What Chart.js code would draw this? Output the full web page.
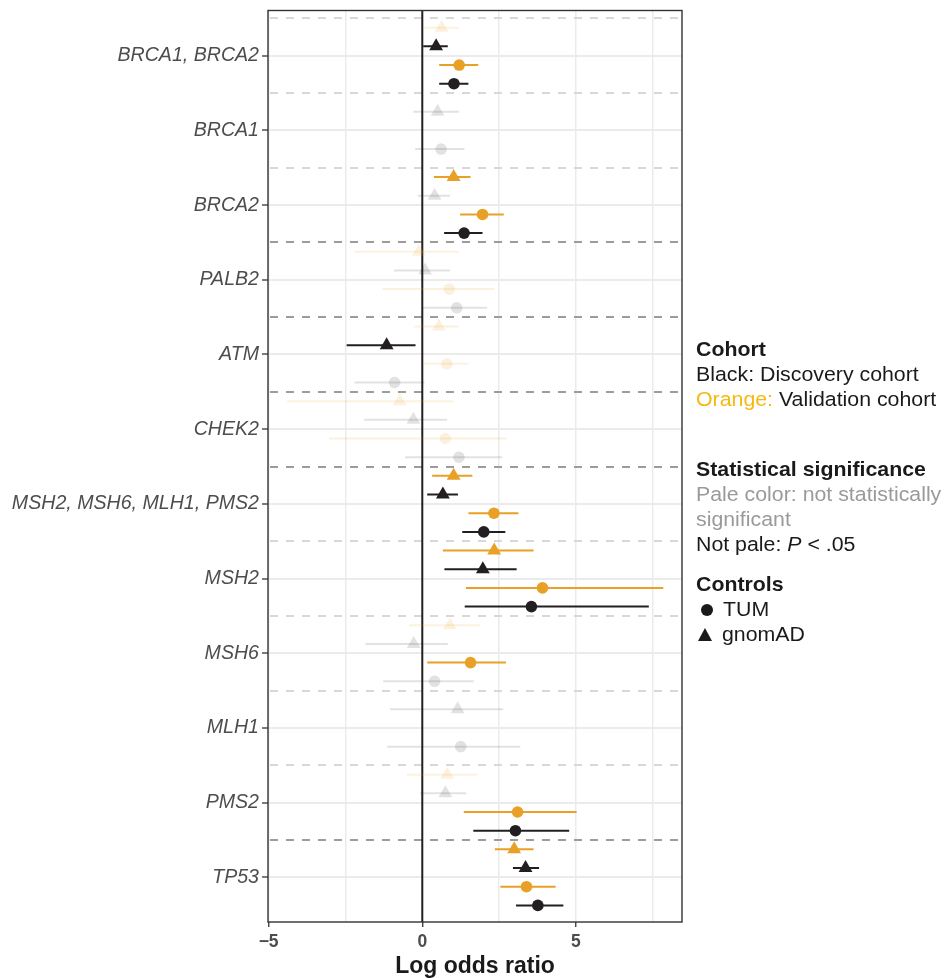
<!DOCTYPE html>
<html>
<head>
<meta charset="utf-8">
<script src="https://cdn.jsdelivr.net/npm/chart.js@4/dist/chart.umd.min.js"></script>
<style>
  html, body { margin: 0; padding: 0; background: #fff; }
  #wrap { position: relative; width: 944px; height: 978px; }
  #chart { position: absolute; left: 0; top: 0; }
  .lg { position: absolute; left: 696px; font-family: "Liberation Sans", Arial, sans-serif; font-size: 20.5px; line-height: 20.5px; color: #1a1a1a; white-space: nowrap; }
  .lg .t { display: inline-block; transform: scaleX(1.04); transform-origin: 0 50%; }
  .pale { color: #9a9a9a; }
  .orange { color: #f5b90f; }
  .dot { display: inline-block; width: 12px; height: 12px; border-radius: 50%; background: #1a1a1a; margin: 0 10px 0 5px; vertical-align: 0px; }
  .tri { display: inline-block; width: 0; height: 0; border-left: 7.5px solid transparent; border-right: 7.5px solid transparent; border-bottom: 13px solid #1a1a1a; margin: 0 10px 0 2px; vertical-align: 0px; }
</style>
</head>
<body>
<div id="wrap">
  <canvas id="chart" width="944" height="978"></canvas>
  <div class="lg" style="top:338.6px"><span class="t"><b>Cohort</b></span></div>
  <div class="lg" style="top:363.6px"><span class="t">Black: Discovery cohort</span></div>
  <div class="lg" style="top:388.6px"><span class="t"><span class="orange">Orange:</span> Validation cohort</span></div>
  <div class="lg" style="top:458.6px"><span class="t"><b>Statistical significance</b></span></div>
  <div class="lg pale" style="top:483.6px"><span class="t">Pale color: not statistically</span></div>
  <div class="lg pale" style="top:508.6px"><span class="t">significant</span></div>
  <div class="lg" style="top:534px"><span class="t">Not pale: <i>P</i> &lt; .05</span></div>
  <div class="lg" style="top:574.3px"><span class="t"><b>Controls</b></span></div>
  <div class="lg" style="top:599.3px"><span class="dot"></span><span class="t">TUM</span></div>
  <div class="lg" style="top:624.3px"><span class="tri"></span><span class="t">gnomAD</span></div>
</div>
<script>
// gene groups, top to bottom
const genes = ['BRCA1, BRCA2', 'BRCA1', 'BRCA2', 'PALB2', 'ATM', 'CHEK2',
  'MSH2, MSH6, MLH1, PMS2', 'MSH2', 'MSH6', 'MLH1', 'PMS2', 'TP53'];

// validation cohort vs gnomAD (orange triangles)
const valGnomadEst = [0.63, null, 1.02, -0.11, 0.54, -0.73, 1.02, 2.34, 0.90, null, 0.81, 2.99];
const valGnomadLo  = [0.07, null, 0.38, -2.21, -0.26, -4.39, 0.32, 0.67, -0.43, null, -0.50, 2.36];
const valGnomadHi  = [1.19, null, 1.57, 1.19, 1.19, 1.01, 1.63, 3.62, 1.87, null, 1.79, 3.62];
const valGnomadSig = [0, null, 1, 0, 0, 0, 1, 1, 0, null, 0, 1];

// discovery cohort vs gnomAD (black triangles)
const discGnomadEst = [0.45, 0.50, 0.40, 0.09, -1.16, -0.29, 0.67, 1.97, -0.28, 1.15, 0.75, 3.36];
const discGnomadLo  = [0.03, -0.29, -0.15, -0.92, -2.46, -1.89, 0.16, 0.72, -1.85, -1.05, -0.07, 2.95];
const discGnomadHi  = [0.83, 1.19, 0.90, 0.90, -0.22, 0.81, 1.16, 3.07, 0.83, 2.63, 1.43, 3.80];
const discGnomadSig = [1, 0, 0, 0, 1, 0, 1, 1, 0, 0, 0, 1];

// validation cohort vs TUM (orange circles)
const valTumEst = [1.20, null, 1.96, 0.88, 0.80, 0.75, 2.33, 3.91, 1.57, null, 3.10, 3.39];
const valTumLo  = [0.55, null, 1.23, -1.30, 0.03, -3.03, 1.50, 1.42, 0.16, null, 1.35, 2.54];
const valTumHi  = [1.82, null, 2.65, 2.35, 1.50, 2.75, 3.13, 7.84, 2.72, null, 5.02, 4.34];
const valTumSig = [1, null, 1, 0, 0, 0, 1, 1, 1, null, 1, 1];

// discovery cohort vs TUM (black circles)
const discTumEst = [1.03, 0.61, 1.36, 1.12, -0.90, 1.19, 2.00, 3.55, 0.40, 1.25, 3.03, 3.76];
const discTumLo  = [0.55, -0.23, 0.71, -0.02, -2.21, -0.56, 1.30, 1.38, -1.27, -1.14, 1.66, 3.05];
const discTumHi  = [1.50, 1.37, 1.96, 2.11, 0.07, 2.60, 2.70, 7.37, 1.67, 3.19, 4.78, 4.59];
const discTumSig = [1, 0, 1, 0, 0, 0, 1, 1, 0, 0, 1, 1];

const xTicks = [-5, -2.5, 0, 2.5, 5, 7.5];
// boundaries above each group: 1 = darker dashed line (new gene family)
const boundaryDark = [0, 0, 0, 1, 1, 1, 1, 0, 0, 0, 0, 1];

const ORANGE = '#e8a126';
const BLACK = '#231f20';
const PALE_ORANGE = 'rgba(232,161,38,0.15)';
const PALE_BLACK = 'rgba(35,31,32,0.13)';

const series = [
  { est: valGnomadEst, lo: valGnomadLo, hi: valGnomadHi, sig: valGnomadSig, orange: true, shape: 'triangle' },
  { est: discGnomadEst, lo: discGnomadLo, hi: discGnomadHi, sig: discGnomadSig, orange: false, shape: 'triangle' },
  { est: valTumEst, lo: valTumLo, hi: valTumHi, sig: valTumSig, orange: true, shape: 'circle' },
  { est: discTumEst, lo: discTumLo, hi: discTumHi, sig: discTumSig, orange: false, shape: 'circle' }
];

const ciSets = [];
const circlePts = [];
const trianglePts = [];

genes.forEach((g, i) => {
  const present = series.filter(s => s.est[i] != null);
  const n = present.length;
  present.forEach((s, k) => {
    const y = 4 * i + (k - (n - 1) / 2) * (4 / n);
    const col = s.sig[i] ? (s.orange ? ORANGE : BLACK) : (s.orange ? PALE_ORANGE : PALE_BLACK);
    ciSets.push({
      type: 'line',
      data: [{ x: s.lo[i], y: y }, { x: s.hi[i], y: y }],
      borderColor: col,
      borderWidth: 2,
      pointRadius: 0,
      showLine: true,
      order: 2
    });
    const pt = { x: s.est[i], y: y, c: col };
    (s.shape === 'circle' ? circlePts : trianglePts).push(pt);
  });
});

const gridPlugin = {
  id: 'extras',
  beforeDatasetsDraw(chart) {
    const { ctx, chartArea, scales } = chart;
    ctx.save();
    ctx.lineWidth = 2;
    ctx.setLineDash([8, 8]);
    boundaryDark.forEach((d, k) => {
      const y = Math.round(scales.y.getPixelForValue(4 * k - 2));
      ctx.strokeStyle = d ? '#9c9c9c' : '#d8d8d8';
      ctx.beginPath();
      ctx.moveTo(chartArea.left + 2, y);
      ctx.lineTo(chartArea.right, y);
      ctx.stroke();
    });
    ctx.setLineDash([]);
    // zero reference line
    const x0 = scales.x.getPixelForValue(0);
    ctx.strokeStyle = BLACK;
    ctx.lineWidth = 2;
    ctx.beginPath();
    ctx.moveTo(x0, chartArea.top);
    ctx.lineTo(x0, chartArea.bottom);
    ctx.stroke();
    ctx.restore();
  },
  afterDraw(chart) {
    const { ctx, chartArea } = chart;
    ctx.save();
    ctx.strokeStyle = '#333333';
    ctx.lineWidth = 1.4;
    ctx.strokeRect(chartArea.left, chartArea.top, chartArea.right - chartArea.left, chartArea.bottom - chartArea.top);
    ctx.restore();
  }
};

new Chart(document.getElementById('chart'), {
  type: 'scatter',
  data: {
    datasets: [
      {
        data: trianglePts,
        pointStyle: 'triangle',
        pointRadius: 8,
        pointBorderWidth: 0,
        backgroundColor: ctx => ctx.raw ? ctx.raw.c : BLACK,
        borderColor: 'rgba(0,0,0,0)',
        order: 0
      },
      {
        data: circlePts,
        pointStyle: 'circle',
        pointRadius: 5.8,
        pointBorderWidth: 0,
        backgroundColor: ctx => ctx.raw ? ctx.raw.c : BLACK,
        borderColor: 'rgba(0,0,0,0)',
        order: 1
      },
      ...ciSets
    ]
  },
  options: {
    responsive: false,
    animation: false,
    devicePixelRatio: 1,
    layout: { padding: { top: 10.5, right: 262, left: 0, bottom: 0 } },
    plugins: { legend: { display: false }, tooltip: { enabled: false } },
    events: [],
    scales: {
      x: {
        type: 'linear',
        min: -5.02,
        max: 8.45,
        afterBuildTicks: s => { s.ticks = xTicks.map(v => ({ value: v })); },
        afterFit: s => { s.height = 56; s.paddingLeft = 0; s.paddingRight = 0; },
        ticks: {
          autoSkip: false,
          maxRotation: 0,
          padding: 4.5,
          color: '#4d4d4d',
          font: { family: '"Liberation Sans", Arial, sans-serif', size: 17.5, weight: 'bold' },
          callback: v => (v % 5 === 0 ? (v < 0 ? '\u2212' + Math.abs(v) : String(v)) : '')
        },
        grid: {
          color: ctx => (ctx.tick && ctx.tick.value === 0 ? 'rgba(0,0,0,0)' : '#ebebeb'),
          lineWidth: 1.5,
          tickColor: ctx => (ctx.tick && ctx.tick.value % 5 === 0 ? '#333333' : 'rgba(0,0,0,0)'),
          tickLength: 5,
          tickWidth: 1.3
        },
        border: { display: false },
        title: {
          display: true,
          text: 'Log odds ratio',
          color: '#1a1a1a',
          padding: { top: 0, bottom: -2 },
          font: { family: '"Liberation Sans", Arial, sans-serif', size: 23, weight: 'bold' }
        }
      },
      y: {
        type: 'linear',
        reverse: true,
        min: -2.42,
        max: 46.39,
        afterBuildTicks: s => { s.ticks = genes.map((g, i) => ({ value: 4 * i })); },
        afterFit: s => { s.width = 268; s.paddingTop = 0; s.paddingBottom = 0; },
        ticks: {
          autoSkip: false,
          padding: 3,
          color: '#4d4d4d',
          font: { family: '"Liberation Sans", Arial, sans-serif', size: 19.6, style: 'italic' },
          callback: v => genes[Math.round(v / 4)]
        },
        grid: {
          color: '#ebebeb',
          lineWidth: 2,
          tickColor: '#333333',
          tickLength: 6,
          tickWidth: 1.3
        },
        border: { display: false }
      }
    }
  },
  plugins: [gridPlugin]
});
</script>
</body>
</html>
